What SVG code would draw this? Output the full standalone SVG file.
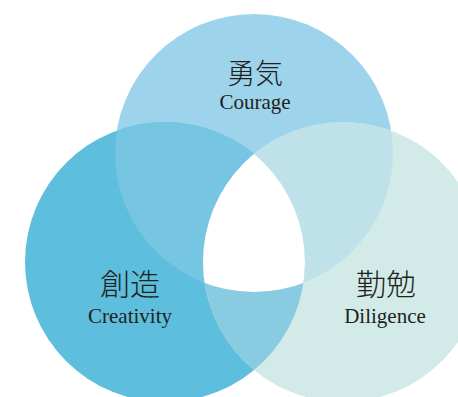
<svg xmlns="http://www.w3.org/2000/svg" width="458" height="397" viewBox="0 0 458 397">
<style>
.jp{font-family:"Noto Sans CJK JP","Noto Sans CJK SC",serif;fill:#231f20;text-anchor:middle;font-weight:300}
.en{font-family:"Liberation Serif","DejaVu Serif",serif;fill:#231f20;text-anchor:middle;font-size:21px}
</style>
<defs>
<clipPath id="cT"><circle cx="254" cy="153" r="139"/></clipPath>
<clipPath id="cL"><circle cx="165" cy="262" r="140"/></clipPath>
<clipPath id="cR"><circle cx="343" cy="262" r="140"/></clipPath>
</defs>
<rect width="458" height="397" fill="#ffffff"/>
<g id="courage"><circle cx="254" cy="153" r="139" fill="#9dd4ec"/></g>
<g id="creativity"><circle cx="165" cy="262" r="140" fill="#5dbedd"/></g>
<g id="diligence"><circle cx="343" cy="262" r="140" fill="#d2ebe8"/></g>
<g id="overlaps">
<g clip-path="url(#cT)"><circle cx="165" cy="262" r="140" fill="#76c5e2"/><circle cx="343" cy="262" r="140" fill="#bfe2ea"/></g>
<g clip-path="url(#cL)"><circle cx="343" cy="262" r="140" fill="#89cbe0"/></g>
<g clip-path="url(#cT)"><g clip-path="url(#cL)"><circle cx="343" cy="262" r="140" fill="#ffffff"/></g></g>
</g>
<g id="labels">
<text class="jp" x="255" y="84" font-size="28">勇気</text>
<text class="en" x="255" y="109">Courage</text>
<text class="jp" x="130" y="295" font-size="30">創造</text>
<text class="en" x="130" y="323">Creativity</text>
<text class="jp" x="386" y="295" font-size="30">勤勉</text>
<text class="en" x="385" y="323">Diligence</text>
</g>
</svg>
